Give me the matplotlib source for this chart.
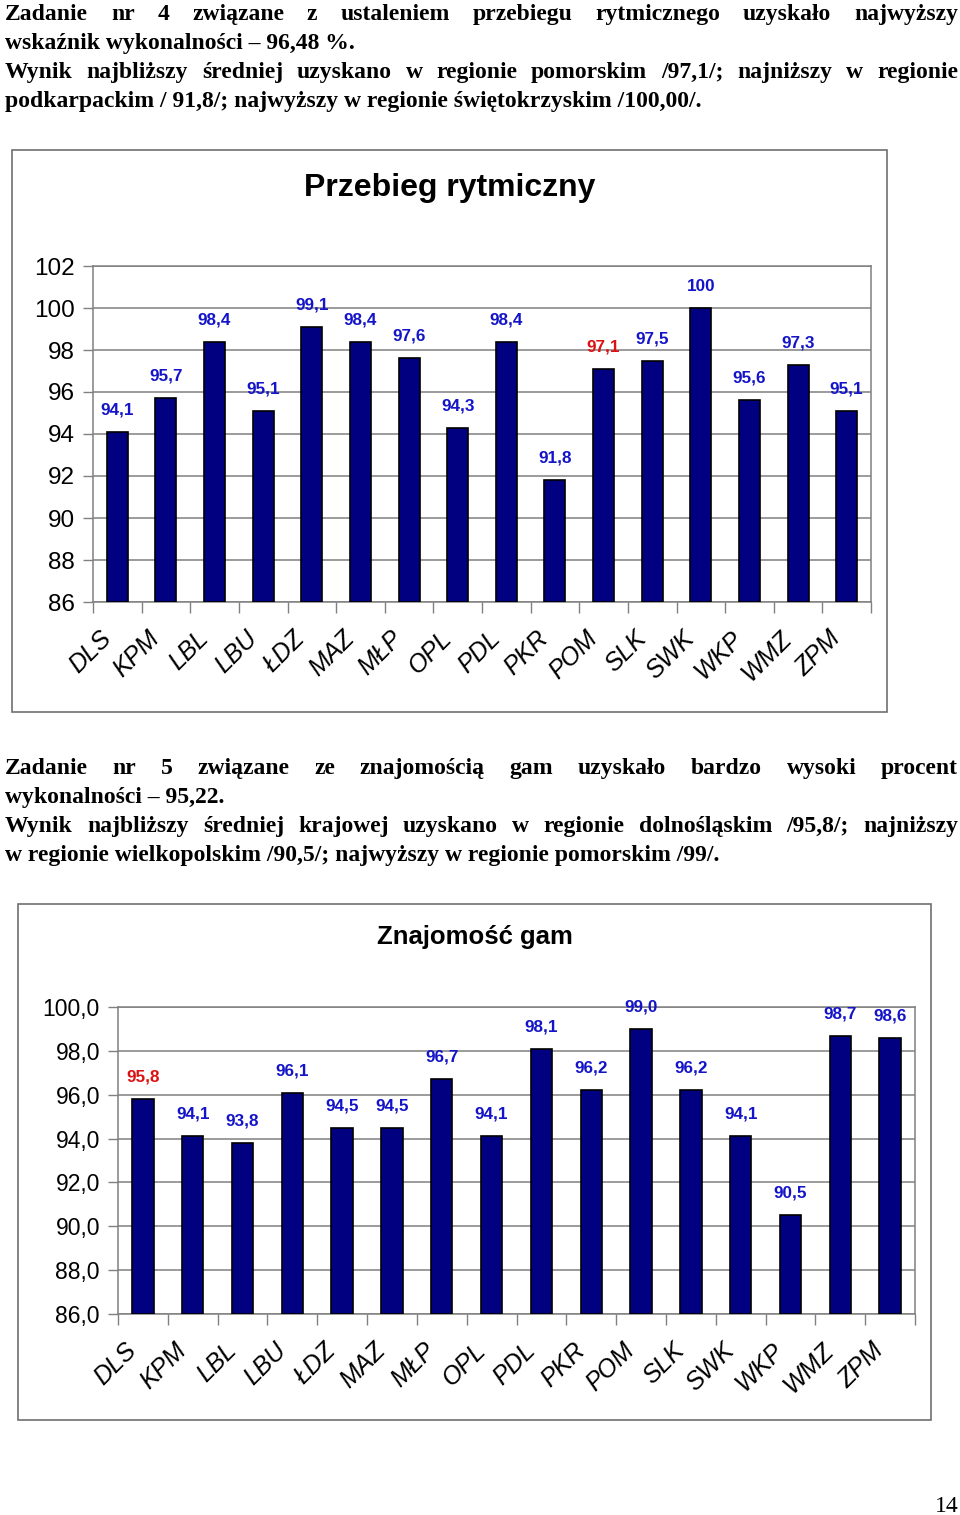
import matplotlib
matplotlib.use('Agg')
import matplotlib.pyplot as plt
from matplotlib.patches import Rectangle
from matplotlib.ticker import FixedLocator

W, H = 960, 1515

regions = ['DLS', 'KPM', 'LBL', 'LBU', 'ŁDZ', 'MAZ', 'MŁP', 'OPL',
           'PDL', 'PKR', 'POM', 'SLK', 'SWK', 'WKP', 'WMZ', 'ZPM']
rytm_values = [94.1, 95.7, 98.4, 95.1, 99.1, 98.4, 97.6, 94.3,
               98.4, 91.8, 97.1, 97.5, 100.0, 95.6, 97.3, 95.1]
rytm_yticks = [86, 88, 90, 92, 94, 96, 98, 100, 102]
rytm_red = 'POM'
gamy_values = [95.8, 94.1, 93.8, 96.1, 94.5, 94.5, 96.7, 94.1,
               98.1, 96.2, 99.0, 96.2, 94.1, 90.5, 98.7, 98.6]
gamy_yticks = [86, 88, 90, 92, 94, 96, 98, 100]
gamy_red = 'DLS'

para1 = [
    ("Zadanie nr 4 związane z ustaleniem przebiegu rytmicznego uzyskało najwyższy", True),
    ("wskaźnik wykonalności – 96,48 %.", False),
    ("Wynik najbliższy średniej uzyskano w regionie pomorskim /97,1/; najniższy w regionie", True),
    ("podkarpackim / 91,8/; najwyższy w regionie świętokrzyskim /100,00/.", False),
]
para2 = [
    ("Zadanie nr 5 związane ze znajomością gam uzyskało bardzo wysoki procent", True),
    ("wykonalności – 95,22.", False),
    ("Wynik najbliższy średniej krajowej uzyskano w regionie dolnośląskim /95,8/; najniższy", True),
    ("w regionie wielkopolskim /90,5/; najwyższy w regionie pomorskim /99/.", False),
]

NAVY = '#000080'
BLUE = '#1414c8'
RED = '#dd1111'
GRID = '#808080'
SANS = 'Liberation Sans'
SERIF = 'Liberation Serif'

fig = plt.figure(figsize=(W / 100, H / 100), dpi=100)
fig.patch.set_facecolor('white')
renderer = fig.canvas.get_renderer()


def fr(x, y):
    return x / W, 1 - y / H


def place_lines(lines, baselines, x0=5, x1=958, size=17):
    kw = dict(fontfamily=SERIF, fontweight='bold', fontsize=size, color='black')
    for (text, justify), yb in zip(lines, baselines):
        if not justify:
            fig.text(x0 / W, 1 - yb / H, text, ha='left', va='baseline', **kw)
            continue
        words = text.split(' ')
        objs = [fig.text(0, 1 - yb / H, w, ha='left', va='baseline', **kw) for w in words]
        widths = [o.get_window_extent(renderer).width for o in objs]
        gap = (x1 - x0 - sum(widths)) / (len(words) - 1)
        x = x0
        for o, w in zip(objs, widths):
            o.set_x(x / W)
            x += w + gap


def draw_chart(box, plot, title, title_xy, title_size, values, yticks, yfmt, ysize,
               lfmt, red_cat):
    bx0, by0, bx1, by1 = box
    fig.patches.append(Rectangle(fr(bx0, by1), (bx1 - bx0) / W, (by1 - by0) / H,
                                 transform=fig.transFigure, fill=False,
                                 edgecolor='#707070', linewidth=1.2))
    fig.text(*fr(*title_xy), title, ha='center', va='center', fontfamily=SANS,
             fontweight='bold', fontsize=title_size, color='black')
    px0, py0, px1, py1 = plot
    l, b = fr(px0, py1)
    ax = fig.add_axes([l, b, (px1 - px0) / W, (py1 - py0) / H])
    n = len(values)
    xs = list(range(n))
    ax.bar(xs, [v - yticks[0] for v in values], bottom=yticks[0], width=0.43,
           color=NAVY, edgecolor='black', linewidth=1.2, zorder=3)
    ax.set_xlim(-0.5, n - 0.5)
    ax.set_ylim(yticks[0], yticks[-1])
    ax.set_yticks(yticks)
    ax.set_yticklabels([yfmt(t) for t in yticks], fontfamily=SANS, fontsize=ysize)
    ax.yaxis.grid(True, color=GRID, linewidth=1.1, zorder=0)
    ax.tick_params(axis='y', length=7, width=1, color=GRID, pad=6)
    ax.set_xticks([])
    ax.xaxis.set_minor_locator(FixedLocator([i - 0.5 for i in range(n + 1)]))
    ax.tick_params(axis='x', which='minor', length=8, width=1, color=GRID)
    for s in ax.spines.values():
        s.set_color(GRID)
        s.set_linewidth(1.1)
    for i, (cat, v) in enumerate(zip(regions, values)):
        ax.annotate(lfmt(v), xy=(i, v), xytext=(0, 22 * 0.72), textcoords='offset points',
                    ha='center', va='center', fontfamily=SANS, fontweight='bold',
                    fontsize=12.3, color=RED if cat == red_cat else BLUE,
                    annotation_clip=False)
        ax.annotate(cat, xy=(i, 0), xycoords=ax.get_xaxis_transform(),
                    xytext=(-10 * 0.72, -33 * 0.72), textcoords='offset points',
                    ha='right', va='center', rotation=45, rotation_mode='anchor',
                    fontfamily=SANS, fontstyle='italic', fontsize=18, color='black',
                    annotation_clip=False)
    return ax


place_lines(para1, [20, 49, 78, 107])
draw_chart((12, 150, 887, 712), (93, 266, 871, 602), 'Przebieg rytmiczny', (450, 188), 23,
           rytm_values, rytm_yticks, lambda t: f"{t:d}", 17.5,
           lambda v: f"{v:g}".replace('.', ','), rytm_red)
place_lines(para2, [774, 803, 832, 861])
draw_chart((18, 904, 931, 1420), (118, 1007, 915, 1314), 'Znajomość gam', (475, 937), 18.5,
           gamy_values, gamy_yticks, lambda t: f"{t:.1f}".replace('.', ','), 16.5,
           lambda v: f"{v:.1f}".replace('.', ','), gamy_red)

fig.text(*fr(959, 1512), '14', ha='right', va='baseline', fontfamily=SERIF,
         fontsize=17, color='black')

fig.savefig('out.png', dpi=100, facecolor='white')
